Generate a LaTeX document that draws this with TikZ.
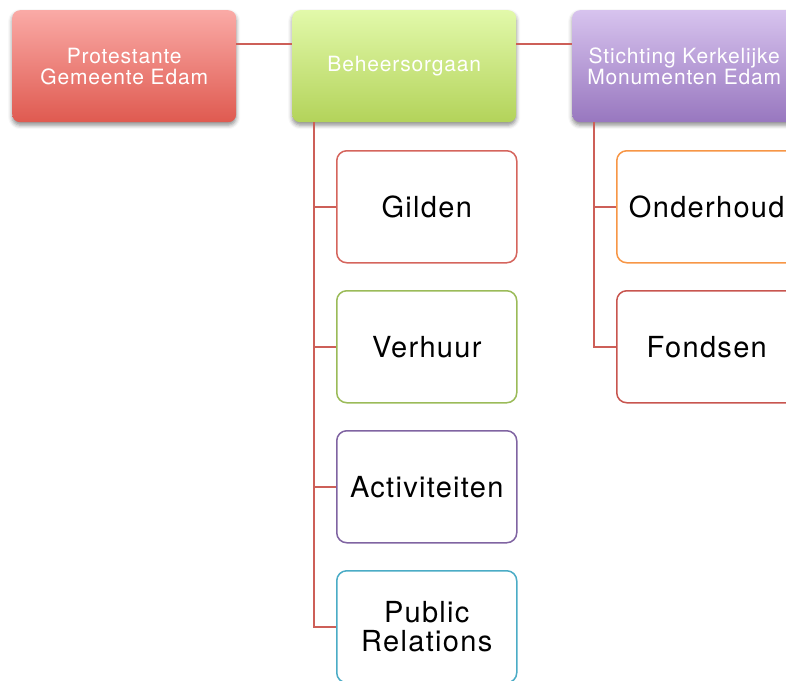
\documentclass[tikz,border=0pt]{standalone}
\usepackage{fontspec}
\setmainfont{TeX Gyre Heros}
\newfontfamily\topfont[LetterSpace=4]{TeX Gyre Heros}
\newfontfamily\childfont[LetterSpace=4.5]{TeX Gyre Heros}
\usetikzlibrary{shadows.blur}
\definecolor{lnred}{HTML}{CD5F58}
\definecolor{aTop}{HTML}{FAAAA6}
\definecolor{aBot}{HTML}{DF5A50}
\definecolor{bTop}{HTML}{E2F9AA}
\definecolor{bBot}{HTML}{B3D35A}
\definecolor{cTop}{HTML}{D7C3EE}
\definecolor{cBot}{HTML}{9877BF}
\definecolor{cRed}{HTML}{D5655D}
\definecolor{cGreen}{HTML}{9BBB59}
\definecolor{cPurple}{HTML}{8064A2}
\definecolor{cCyan}{HTML}{4BACC6}
\definecolor{cOrange}{HTML}{F79646}
\definecolor{cRed2}{HTML}{C8554F}
\tikzset{
  topbox/.style={rounded corners=8pt, minimum width=224pt, minimum height=112pt,
    inner sep=0pt, anchor=north west, text=white, align=center,
    font=\topfont\fontsize{21}{21}\selectfont,
    blur shadow={shadow xshift=0pt, shadow yshift=-3pt, shadow blur radius=4pt, shadow opacity=45}},
  childbox/.style={rounded corners=10pt, minimum width=180pt, minimum height=112pt,
    inner sep=0pt, anchor=north west, fill=white, draw, line width=1.5pt, align=center,
    font=\childfont\fontsize{29}{29}\selectfont, text=black},
  conn/.style={draw=lnred, line width=1.5pt}
}
\begin{document}
\begin{tikzpicture}[x=1pt,y=-1pt]
\useasboundingbox (0,0) rectangle (786,680);
\clip (0,0) rectangle (786,680);
\coordinate (v1) at (314,122);
\coordinate (v2) at (594,122);
% top boxes
\node[topbox, top color=aTop, bottom color=aBot] (pg) at (12,10) {Protestante\\Gemeente Edam};
\node[topbox, top color=bTop, bottom color=bBot] (bh) at (292,10) {Beheersorgaan};
\node[topbox, top color=cTop, bottom color=cBot] (sk) at (572,10) {Stichting Kerkelijke\\Monumenten Edam};
% children
\node[childbox, draw=cRed] (gi) at (336,150) {Gilden};
\node[childbox, draw=cGreen] (ve) at (336,290) {Verhuur};
\node[childbox, draw=cPurple] (ac) at (336,430) {Activiteiten};
\node[childbox, draw=cCyan] (pr) at (336,570) {Public\\Relations};
\node[childbox, draw=cOrange] (on) at (616,150) {Onderhoud};
\node[childbox, draw=cRed2] (fo) at (616,290) {Fondsen};
% connectors
\draw[conn] (pg.east |- 0,44) -- (bh.west |- 0,44);
\draw[conn] (bh.east |- 0,44) -- (sk.west |- 0,44);
\draw[conn] (bh.south -| v1) |- (gi.west);
\draw[conn] (bh.south -| v1) |- (ve.west);
\draw[conn] (bh.south -| v1) |- (ac.west);
\draw[conn] (bh.south -| v1) |- (pr.west);
\draw[conn] (sk.south -| v2) |- (on.west);
\draw[conn] (sk.south -| v2) |- (fo.west);
\end{tikzpicture}
\end{document}
